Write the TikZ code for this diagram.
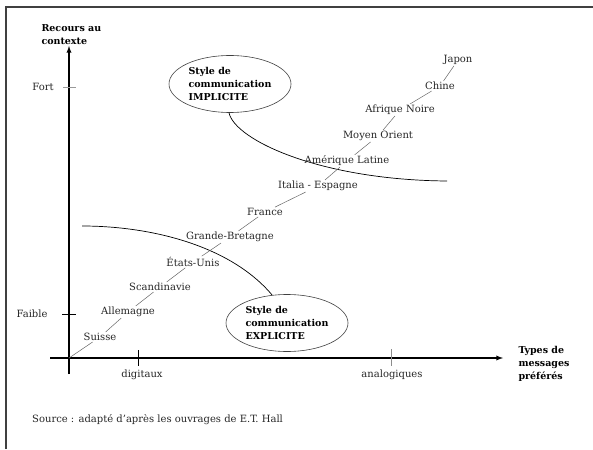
\documentclass[tikz,border=0pt]{standalone}
\usepackage{fontspec}
\setmainfont{DejaVu Serif}
\usetikzlibrary{shapes.geometric}
\begin{document}
\begin{tikzpicture}[x=1pt,y=-1pt,
  pays/.style={font=\fontsize{10}{11}\selectfont, inner sep=1pt, text=black!85},
  lien/.style={draw=black!60, line width=0.5pt},
  axe/.style={line width=1.3pt, -latex},
  graduation/.style={line width=0.8pt},
  titre/.style={font=\bfseries\fontsize{9.5}{13}\selectfont, align=left},
  bulle/.style={ellipse, draw=black!75, line width=0.6pt, inner sep=0pt, minimum width=122pt, minimum height=57pt},
  courbe/.style={line width=0.7pt}]
\useasboundingbox (0,0) rectangle (593,449);
% cadre
\draw[line width=1.2pt, black!75] (6,449) -- (6,7) -- (593,7);
% axes
\coordinate (o) at (69,358);
\coordinate (ybas) at (69,374);
\coordinate (yhaut) at (69,46);
\coordinate (xgauche) at (50,358);
\coordinate (xdroite) at (503,358);
\draw[axe] (ybas) -- (yhaut);
\draw[axe] (xgauche) -- (xdroite);
\node[titre, anchor=west] (recours) at (38,35) {Recours au\\contexte};
\node[titre, anchor=west] (types) at (515,364) {Types de\\messages\\préférés};
% graduations
\draw[graduation, black!40] (63,87) -- (76,87);
\draw[graduation] (62,314) -- (76,314);
\draw[graduation] (138,350) -- (138,366);
\draw[graduation, black!45] (391,349) -- (391,366);
\node[pays] (fort) at (43,87) {Fort};
\node[pays] (faible) at (32,314) {Faible};
\node[pays] (digitaux) at (142,375) {digitaux};
\node[pays] (analogiques) at (392,375) {analogiques};
\node[pays, anchor=west] (source) at (31,420) {Source : adapté d'après les ouvrages de E.T. Hall};
% styles de communication
\node[bulle, titre] (implicite) at (230,84) {Style de\\communication\\IMPLICITE};
\node[bulle, titre] (explicite) at (287,323) {Style de\\communication\\EXPLICITE};
\coordinate (fin1) at (447,181);
\coordinate (debut2) at (82,226);
\draw[courbe] (implicite.268) .. controls (235,140) and (320,180) .. (fin1);
\draw[courbe] (debut2) .. controls (150,226) and (230,245) .. (explicite.118);
% pays
\node[pays] (suisse) at (100,337) {Suisse};
\node[pays] (allemagne) at (128,312) {Allemagne};
\node[pays] (scandinavie) at (160,287) {Scandinavie};
\node[pays] (usa) at (193,262) {États-Unis};
\node[pays] (gb) at (230,237) {Grande-Bretagne};
\node[pays] (france) at (265,212) {France};
\node[pays] (italie) at (318,186) {Italia - Espagne};
\node[pays] (amlat) at (347,161) {Amérique Latine};
\node[pays] (moyen) at (378,136) {Moyen Orient};
\node[pays] (afrique) at (400,110) {Afrique Noire};
\node[pays] (chine) at (440,86) {Chine};
\node[pays] (japon) at (458,60) {Japon};
\draw[lien] (o) -- (suisse);
\foreach \a/\b in {suisse/allemagne, allemagne/scandinavie, scandinavie/usa, usa/gb,
  gb/france, france/italie, italie/amlat, amlat/moyen, moyen/afrique, afrique/chine, chine/japon}
  \draw[lien] (\a) -- (\b);
\end{tikzpicture}
\end{document}
